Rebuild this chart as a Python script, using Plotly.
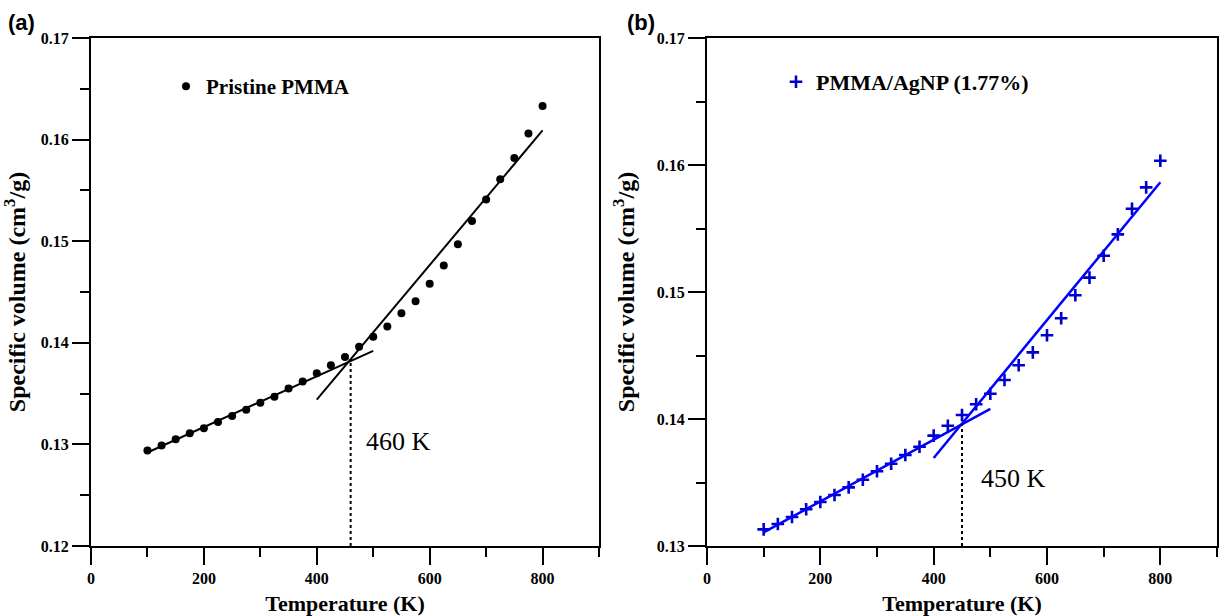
import plotly.graph_objects as go

# ---------------- data ----------------
temp = [100, 125, 150, 175, 200, 225, 250, 275, 300, 325, 350, 375, 400, 425,
        450, 475, 500, 525, 550, 575, 600, 625, 650, 675, 700, 725, 750, 775, 800]

vol_pristine = [0.1294, 0.1299, 0.1305, 0.1311, 0.1316, 0.1322, 0.1328, 0.1334,
                0.1341, 0.1347, 0.1355, 0.1362, 0.1370, 0.1378, 0.1386, 0.1396,
                0.1406, 0.1416, 0.1429, 0.1441, 0.1458, 0.1476, 0.1497, 0.1520,
                0.1541, 0.1561, 0.1582, 0.1606, 0.1633]

vol_agnp = [0.13131, 0.13173, 0.13228, 0.13289, 0.13346, 0.13402, 0.13462, 0.13522,
            0.13588, 0.13648, 0.13717, 0.13782, 0.13869, 0.13947, 0.14031, 0.14116,
            0.14199, 0.14307, 0.14423, 0.14525, 0.14659, 0.14793, 0.14974, 0.15113,
            0.15286, 0.15454, 0.15656, 0.15824, 0.16034]

# linear fits (glassy and rubbery regions)
fit_glass_x = [100, 500]
fit_rubber_x = [400, 800]
fit_a_glass_y = [0.1292, 0.1392]
fit_a_rubber_y = [0.1344, 0.1609]
fit_b_glass_y = [0.13108, 0.14079]
fit_b_rubber_y = [0.13693, 0.15864]

tg_a = 460
tg_a_y = 0.1384
tg_b = 450
tg_b_y = 0.1396

x_ticks = [0, 200, 400, 600, 800]

# ---------------- figure ----------------
SERIF = "Liberation Serif"
SANS = "Liberation Sans"
BLUE = "#0000ff"

fig = go.Figure()

# panel (a)
fig.add_trace(go.Scatter(x=temp, y=vol_pristine, mode="markers", name="Pristine PMMA",
                         marker=dict(symbol="circle", size=8, color="black"),
                         xaxis="x", yaxis="y", legend="legend"))
fig.add_trace(go.Scatter(x=fit_glass_x, y=fit_a_glass_y, mode="lines", showlegend=False,
                         line=dict(color="black", width=2), xaxis="x", yaxis="y"))
fig.add_trace(go.Scatter(x=fit_rubber_x, y=fit_a_rubber_y, mode="lines", showlegend=False,
                         line=dict(color="black", width=2), xaxis="x", yaxis="y"))
fig.add_trace(go.Scatter(x=[tg_a, tg_a], y=[0.12, tg_a_y], mode="lines", showlegend=False,
                         line=dict(color="black", width=2, dash="dot"), xaxis="x", yaxis="y"))

# panel (b)
fig.add_trace(go.Scatter(x=temp, y=vol_agnp, mode="markers", name="PMMA/AgNP (1.77%)",
                         marker=dict(symbol="cross-thin", size=9, color=BLUE,
                                     line=dict(color="#0000cc", width=2.6)),
                         xaxis="x2", yaxis="y2", legend="legend2"))
fig.add_trace(go.Scatter(x=fit_glass_x, y=fit_b_glass_y, mode="lines", showlegend=False,
                         line=dict(color=BLUE, width=2.5), xaxis="x2", yaxis="y2"))
fig.add_trace(go.Scatter(x=fit_rubber_x, y=fit_b_rubber_y, mode="lines", showlegend=False,
                         line=dict(color=BLUE, width=2.5), xaxis="x2", yaxis="y2"))
fig.add_trace(go.Scatter(x=[tg_b, tg_b], y=[0.13, tg_b_y], mode="lines", showlegend=False,
                         line=dict(color="black", width=2, dash="dot"), xaxis="x2", yaxis="y2"))

W, H = 1221, 616
def px(v):
    return v / W
def py(v):
    return 1 - v / H

tickfont = dict(family=SERIF, size=16, color="black", weight="bold")
xtitlefont = dict(family=SERIF, size=22, color="black", weight="bold")
ytitlefont = dict(family=SERIF, size=24, color="black", weight="bold")

def xaxis_cfg(domain, anchor):
    return dict(domain=domain, anchor=anchor, range=[0, 900], tickvals=x_ticks,
                automargin=False,
                ticks="outside", ticklen=17, tickwidth=2, tickcolor="black",
                minor=dict(dtick=100, tick0=0, ticks="outside", ticklen=9, tickwidth=2,
                           tickcolor="black", showgrid=False),
                showline=True, linewidth=2, linecolor="black", mirror=True,
                showgrid=False, zeroline=False, tickfont=tickfont,
                title=dict(text="Temperature (K)", font=xtitlefont))

def yaxis_cfg(rng, anchor):
    return dict(domain=[py(546), py(38)], anchor=anchor, range=rng, dtick=0.01,
                tick0=0, tickformat=".2f", automargin=False,
                ticks="outside", ticklen=17, tickwidth=2, tickcolor="black",
                minor=dict(dtick=0.005, tick0=0, ticks="outside", ticklen=9, tickwidth=2,
                           tickcolor="black", showgrid=False),
                showline=True, linewidth=2, linecolor="black", mirror=True,
                showgrid=False, zeroline=False, tickfont=tickfont,
                title=dict(text="Specific volume (cm<sup>3</sup>/g)", font=ytitlefont))

fig.update_layout(
    width=W, height=H,
    margin=dict(l=0, r=0, t=0, b=0),
    paper_bgcolor="white", plot_bgcolor="white",
    xaxis=xaxis_cfg([px(91), px(599)], "y"),
    yaxis=yaxis_cfg([0.12, 0.17], "x"),
    xaxis2=xaxis_cfg([px(707), px(1217)], "y2"),
    yaxis2=yaxis_cfg([0.13, 0.17], "x2"),
    legend=dict(x=px(166), y=py(66), xanchor="left", yanchor="top",
                bgcolor="rgba(0,0,0,0)", borderwidth=0,
                font=dict(family=SERIF, size=21, color="black", weight="bold")),
    legend2=dict(x=px(776), y=py(61), xanchor="left", yanchor="top",
                 bgcolor="rgba(0,0,0,0)", borderwidth=0,
                 font=dict(family=SERIF, size=22, color="black", weight="bold")),
    annotations=[
        dict(text="(a)", x=px(6), y=py(8), xref="paper", yref="paper",
             xanchor="left", yanchor="top", showarrow=False,
             font=dict(family=SANS, size=22, color="black", weight="bold")),
        dict(text="(b)", x=px(625), y=py(8), xref="paper", yref="paper",
             xanchor="left", yanchor="top", showarrow=False,
             font=dict(family=SANS, size=22, color="black", weight="bold")),
        dict(text="460 K", x=544, y=0.1303, xref="x", yref="y", showarrow=False,
             font=dict(family=SERIF, size=26, color="black")),
        dict(text="450 K", x=541, y=0.1353, xref="x2", yref="y2", showarrow=False,
             font=dict(family=SERIF, size=26, color="black")),
    ],
)

fig.write_html("out.html",
               config={"displayModeBar": False},
               post_script="document.body.style.margin='0';")
